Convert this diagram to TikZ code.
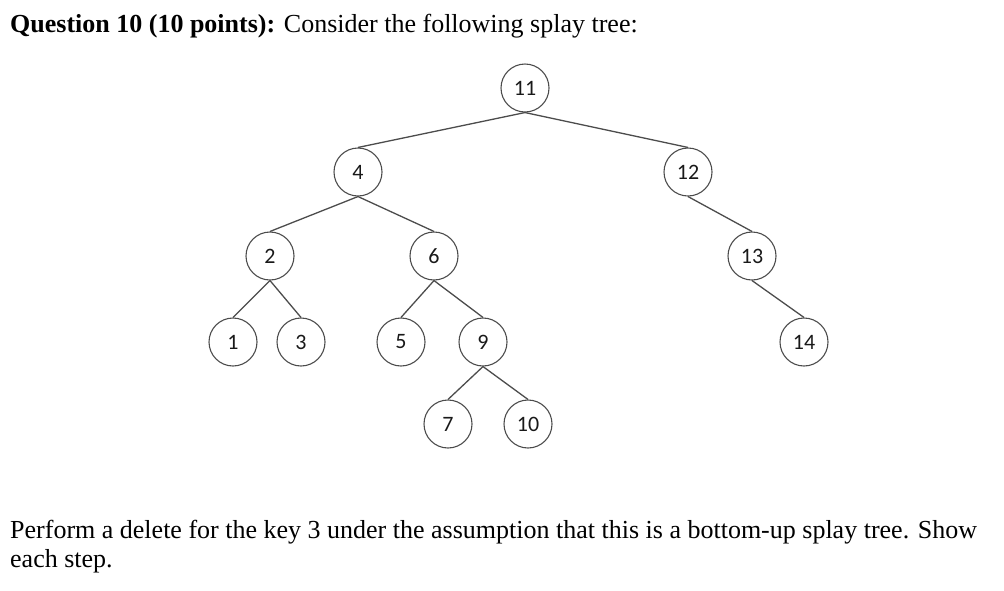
\documentclass[tikz,border=0pt]{standalone}
\usepackage{fontspec}
\setmainfont{Liberation Serif}
\newfontfamily\nodefont{Carlito}
\begin{document}
\begin{tikzpicture}[x=1pt,y=-1pt,
  tnode/.style={circle,draw=black!70,line width=1.1pt,minimum size=48pt,inner sep=0pt,font=\nodefont\fontsize{22}{24}\selectfont,text=black!90},
  tedge/.style={draw=black!70,line width=1.3pt}]
\useasboundingbox (0,0) rectangle (1004,590);
\node[anchor=base west,inner sep=0pt,font=\fontsize{26}{30}\selectfont] (title) at (10,32) {\textbf{Question 10 (10 points):} Consider the following splay tree:};
\node[tnode] (n11) at (525,88) {11};
\node[tnode] (n4) at (358,172) {4};
\node[tnode] (n12) at (688,172) {12};
\node[tnode] (n2) at (270,256) {2};
\node[tnode] (n6) at (434,256) {6};
\node[tnode] (n13) at (752,256) {13};
\node[tnode] (n1) at (233,342) {1};
\node[tnode] (n3) at (301,342) {3};
\node[tnode] (n5) at (401,342) {5};
\node[tnode] (n9) at (483,342) {9};
\node[tnode] (n14) at (804,342) {14};
\node[tnode] (n7) at (448,424) {7};
\node[tnode] (n10) at (528,424) {10};
\foreach \a/\b in {n11/n4,n11/n12,n4/n2,n4/n6,n2/n1,n2/n3,n6/n5,n6/n9,n9/n7,n9/n10,n12/n13,n13/n14}
  \draw[tedge] (\a.south) -- (\b.north);
\node[anchor=base west,inner sep=0pt,font=\fontsize{26}{30}\selectfont] (q1) at (10,538) {Perform a delete for the key 3 under the assumption that this is a bottom-up splay tree. Show};
\node[anchor=base west,inner sep=0pt,font=\fontsize{26}{30}\selectfont] (q2) at (10,567) {each step.};
\end{tikzpicture}
\end{document}
